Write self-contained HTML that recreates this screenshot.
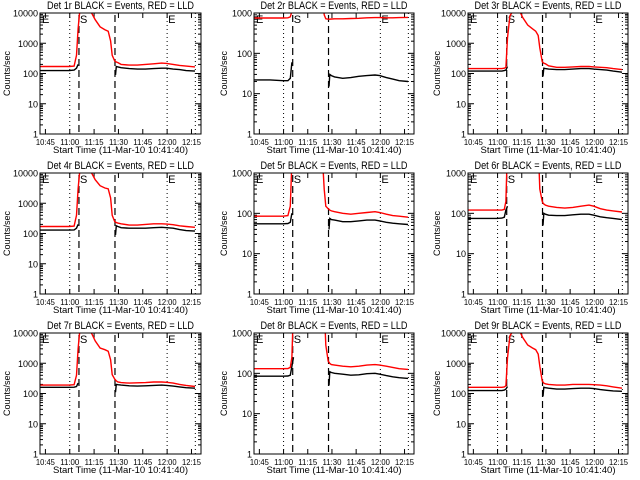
<!DOCTYPE html>
<html><head><meta charset="utf-8"><style>
html,body{margin:0;padding:0;background:#fff;}
svg{display:block;font-family:"Liberation Sans",sans-serif;}
</style></head><body>
<svg id="c" width="640" height="480" viewBox="0 0 640 480"></svg>
<script>
// minutes since 10:41:40
const times = [0,10,18,21,22.5,23.5,24.5,26,28,31,34,37,40,42,43.5,44.5,46,46.5,47,48,50,55,60,65,70,75,78,82,86,90,95.5];
const xTickLabels = ["10:45","11:00","11:15","11:30","11:45","12:00","12:15"];
const xTickMinutes = [3.33,18.33,33.33,48.33,63.33,78.33,93.33];
const panelNames = ["Det 1r","Det 2r","Det 3r","Det 4r","Det 5r","Det 6r","Det 7r","Det 8r","Det 9r"];
const panelDecades = [4,3,4,4,3,3,4,3,4];
const N = null;
const black1 = [125,125,125,130,150,200,N,N,N,N,N,N,N,N,N,N,N,90,170,165,155,145,140,140,145,150,150,140,135,125,120];
const red1   = [170,170,170,175,400,3000,12000,20000,20000,12000,6000,3500,2800,2500,1200,400,260,250,240,230,200,190,190,200,210,220,215,200,185,175,165];
const black2 = [22,22,21,21,24,60,N,N,N,N,N,N,N,N,N,N,N,15,30,28,26,24,25,27,28,29,28,25,23,21,20];
const red2   = [750,750,750,760,800,1100,5000,5000,5000,5000,5000,5000,5000,5000,900,720,700,700,700,710,720,720,730,740,760,770,770,760,760,770,780];
const black3 = [120,120,120,120,125,130,170,N,N,N,N,N,N,N,N,N,N,80,150,145,140,135,135,140,145,145,140,135,130,120,110];
const red3   = [145,145,145,145,150,160,1500,8000,12000,15000,7000,4000,3000,2500,1800,700,250,230,220,210,180,160,160,165,170,170,165,160,155,145,135];
const black4 = [130,130,130,132,150,200,N,N,N,N,N,N,N,N,N,N,N,90,180,170,155,150,150,150,155,160,155,150,135,125,120];
const red4   = [170,170,170,175,400,3000,12000,20000,20000,12000,6000,3800,3200,3000,1500,400,250,240,230,220,210,190,190,200,210,210,205,195,180,170,160];
const black5 = [55,55,55,56,60,100,N,N,N,N,N,N,N,N,N,N,N,40,75,70,68,62,62,65,68,68,65,60,57,55,53];
const red5   = [85,85,85,88,150,2000,5000,5000,5000,5000,5000,5000,5000,5000,400,150,130,125,120,115,110,100,95,100,105,110,105,95,88,85,80];
const black6 = [75,75,75,76,80,120,150,N,N,N,N,N,N,N,N,N,N,50,100,95,90,88,88,92,95,95,90,82,78,75,70];
const red6   = [120,120,120,120,125,200,5000,5000,5000,5000,5000,5000,5000,5000,5000,400,200,180,170,160,150,140,135,140,150,160,150,130,120,115,108];
const black7 = [160,160,160,162,170,220,N,N,N,N,N,N,N,N,N,N,N,110,200,195,190,180,175,180,185,190,185,175,165,155,150];
const red7   = [190,190,190,195,400,3000,12000,20000,20000,12000,5500,3200,2800,2500,1300,420,300,280,260,240,230,220,225,230,240,240,235,220,200,185,170];
const black8 = [85,85,85,86,90,150,250,N,N,N,N,N,N,N,N,N,N,50,110,105,100,95,90,92,98,100,95,88,82,78,75];
const red8   = [130,130,130,132,140,250,5000,5000,5000,5000,5000,5000,5000,5000,5000,500,200,190,175,165,160,150,145,150,160,165,160,150,140,130,125];
const black9 = [125,125,125,125,130,140,170,N,N,N,N,N,N,N,N,N,N,80,160,155,150,140,140,145,150,150,145,135,128,122,118];
const red9   = [160,160,160,160,165,180,1500,8000,12000,15000,7000,4000,3200,2800,2000,800,260,240,220,210,200,190,190,200,200,200,195,190,180,165,150];
const blackSeries = [black1,black2,black3,black4,black5,black6,black7,black8,black9];
const redSeries = [red1,red2,red3,red4,red5,red6,red7,red8,red9];
const dottedMinutes = [18.33,78.33,95.7];
const dashedMinutes = [24.0,46.2];

const NS = "http://www.w3.org/2000/svg";
const svg = document.getElementById("c");
const colLeft = [40,254,468], colW = [161,160,160], rowTop = [13,173,333], H = 121, SPAN = 99.2;
function mk(tag, attrs, parent){const e=document.createElementNS(NS,tag);for(const k in attrs)e.setAttribute(k,attrs[k]);(parent||svg).appendChild(e);return e;}

for(let p=0;p<9;p++){
  const r=Math.floor(p/3), c=p%3;
  const L=colLeft[c], W=colW[c], T=rowTop[r], B=T+H, dec=panelDecades[p];
  const xs = m => L + m/SPAN*W;
  const ys = v => B - Math.log10(v)/dec*H;
  const g = mk("g",{});
  
  
  const cp = mk("clipPath",{id:"cl"+p},g);
  mk("rect",{x:L,y:T,width:W,height:H},cp);
  const ti = mk("text",{x:L+W/2,y:T-4,"text-anchor":"middle","font-size":"11",textLength:"147",lengthAdjust:"spacingAndGlyphs"},g);
  ti.textContent = panelNames[p]+" BLACK = Events, RED = LLD";
  
  
  for(let d=0; d<=dec; d++){
    const y=ys(Math.pow(10,d));
    mk("line",{x1:L,x2:L+6,y1:y,y2:y,stroke:"#000","stroke-width":1},g);
    mk("line",{x1:L+W-6,x2:L+W,y1:y,y2:y,stroke:"#000","stroke-width":1},g);
    const t = mk("text",{x:L-2,y:y+3.5,"text-anchor":"end","font-size":"9"},g);
    t.textContent = String(Math.pow(10,d));
    
    
    if(d<dec) for(let k=2;k<10;k++){
      const yy=ys(k*Math.pow(10,d));
      mk("line",{x1:L,x2:L+3,y1:yy,y2:yy,stroke:"#000","stroke-width":1},g);
      mk("line",{x1:L+W-3,x2:L+W,y1:yy,y2:yy,stroke:"#000","stroke-width":1},g);
    }
  }
  xTickMinutes.forEach((m,i)=>{
    const x=xs(m);
    mk("line",{x1:x,x2:x,y1:B,y2:B-5,stroke:"#000","stroke-width":1},g);
    mk("line",{x1:x,x2:x,y1:T,y2:T+5,stroke:"#000","stroke-width":1},g);
    const t = mk("text",{x:x,y:B+11,"text-anchor":"middle","font-size":"8.5",textLength:"19",lengthAdjust:"spacingAndGlyphs"},g);
    t.textContent = xTickLabels[i];
    
    
  });
  const xt = mk("text",{x:L+W/2,y:B+19,"text-anchor":"middle","font-size":"9.5"},g);
  xt.textContent = "Start Time (11-Mar-10 10:41:40)";
  
  
  const yx = [10,227,440][c];
  const yt = mk("text",{x:yx,y:T+H/2,"text-anchor":"middle","font-size":"9",transform:`rotate(-90 ${yx} ${T+H/2})`},g);
  yt.textContent = "Counts/sec";
  
  
  dottedMinutes.forEach(m=>{const x=xs(m);mk("line",{x1:x,x2:x,y1:T,y2:B,stroke:"#000","stroke-width":1,"stroke-dasharray":"1 3"},g);});
  dashedMinutes.forEach(m=>{const x=xs(m);mk("line",{x1:x,x2:x,y1:T+2,y2:B,stroke:"#000","stroke-width":1.2,"stroke-dasharray":"7 4"},g);});
  [["E",L+2],["S",xs(dashedMinutes[0])+1],["E",xs(78.33)+1]].forEach(([s,x])=>{
    const t=mk("text",{x:x,y:T+10,"font-size":"11"},g); t.textContent=s;
    
    
  });
  const cg = mk("g",{"clip-path":`url(#cl${p})`},g);
  [[blackSeries[p],"#000"],[redSeries[p],"#f00"]].forEach(([arr,col])=>{
    let segs=[],cur=[];
    arr.forEach((v,i)=>{ if(v==null){ if(cur.length)segs.push(cur); cur=[]; } else cur.push(xs(times[i]).toFixed(1)+","+ys(v).toFixed(1)); });
    if(cur.length)segs.push(cur);
    segs.forEach(s=>{
      const pl = mk("polyline",{points:s.join(" "),fill:"none",stroke:col,"stroke-width":1.4},cg);
      
      
    });
  });
  const fr = mk("rect",{x:L,y:T,width:W,height:H,fill:"none",stroke:"#000","stroke-width":1},g);
  
  
}
</script>
</body></html>
